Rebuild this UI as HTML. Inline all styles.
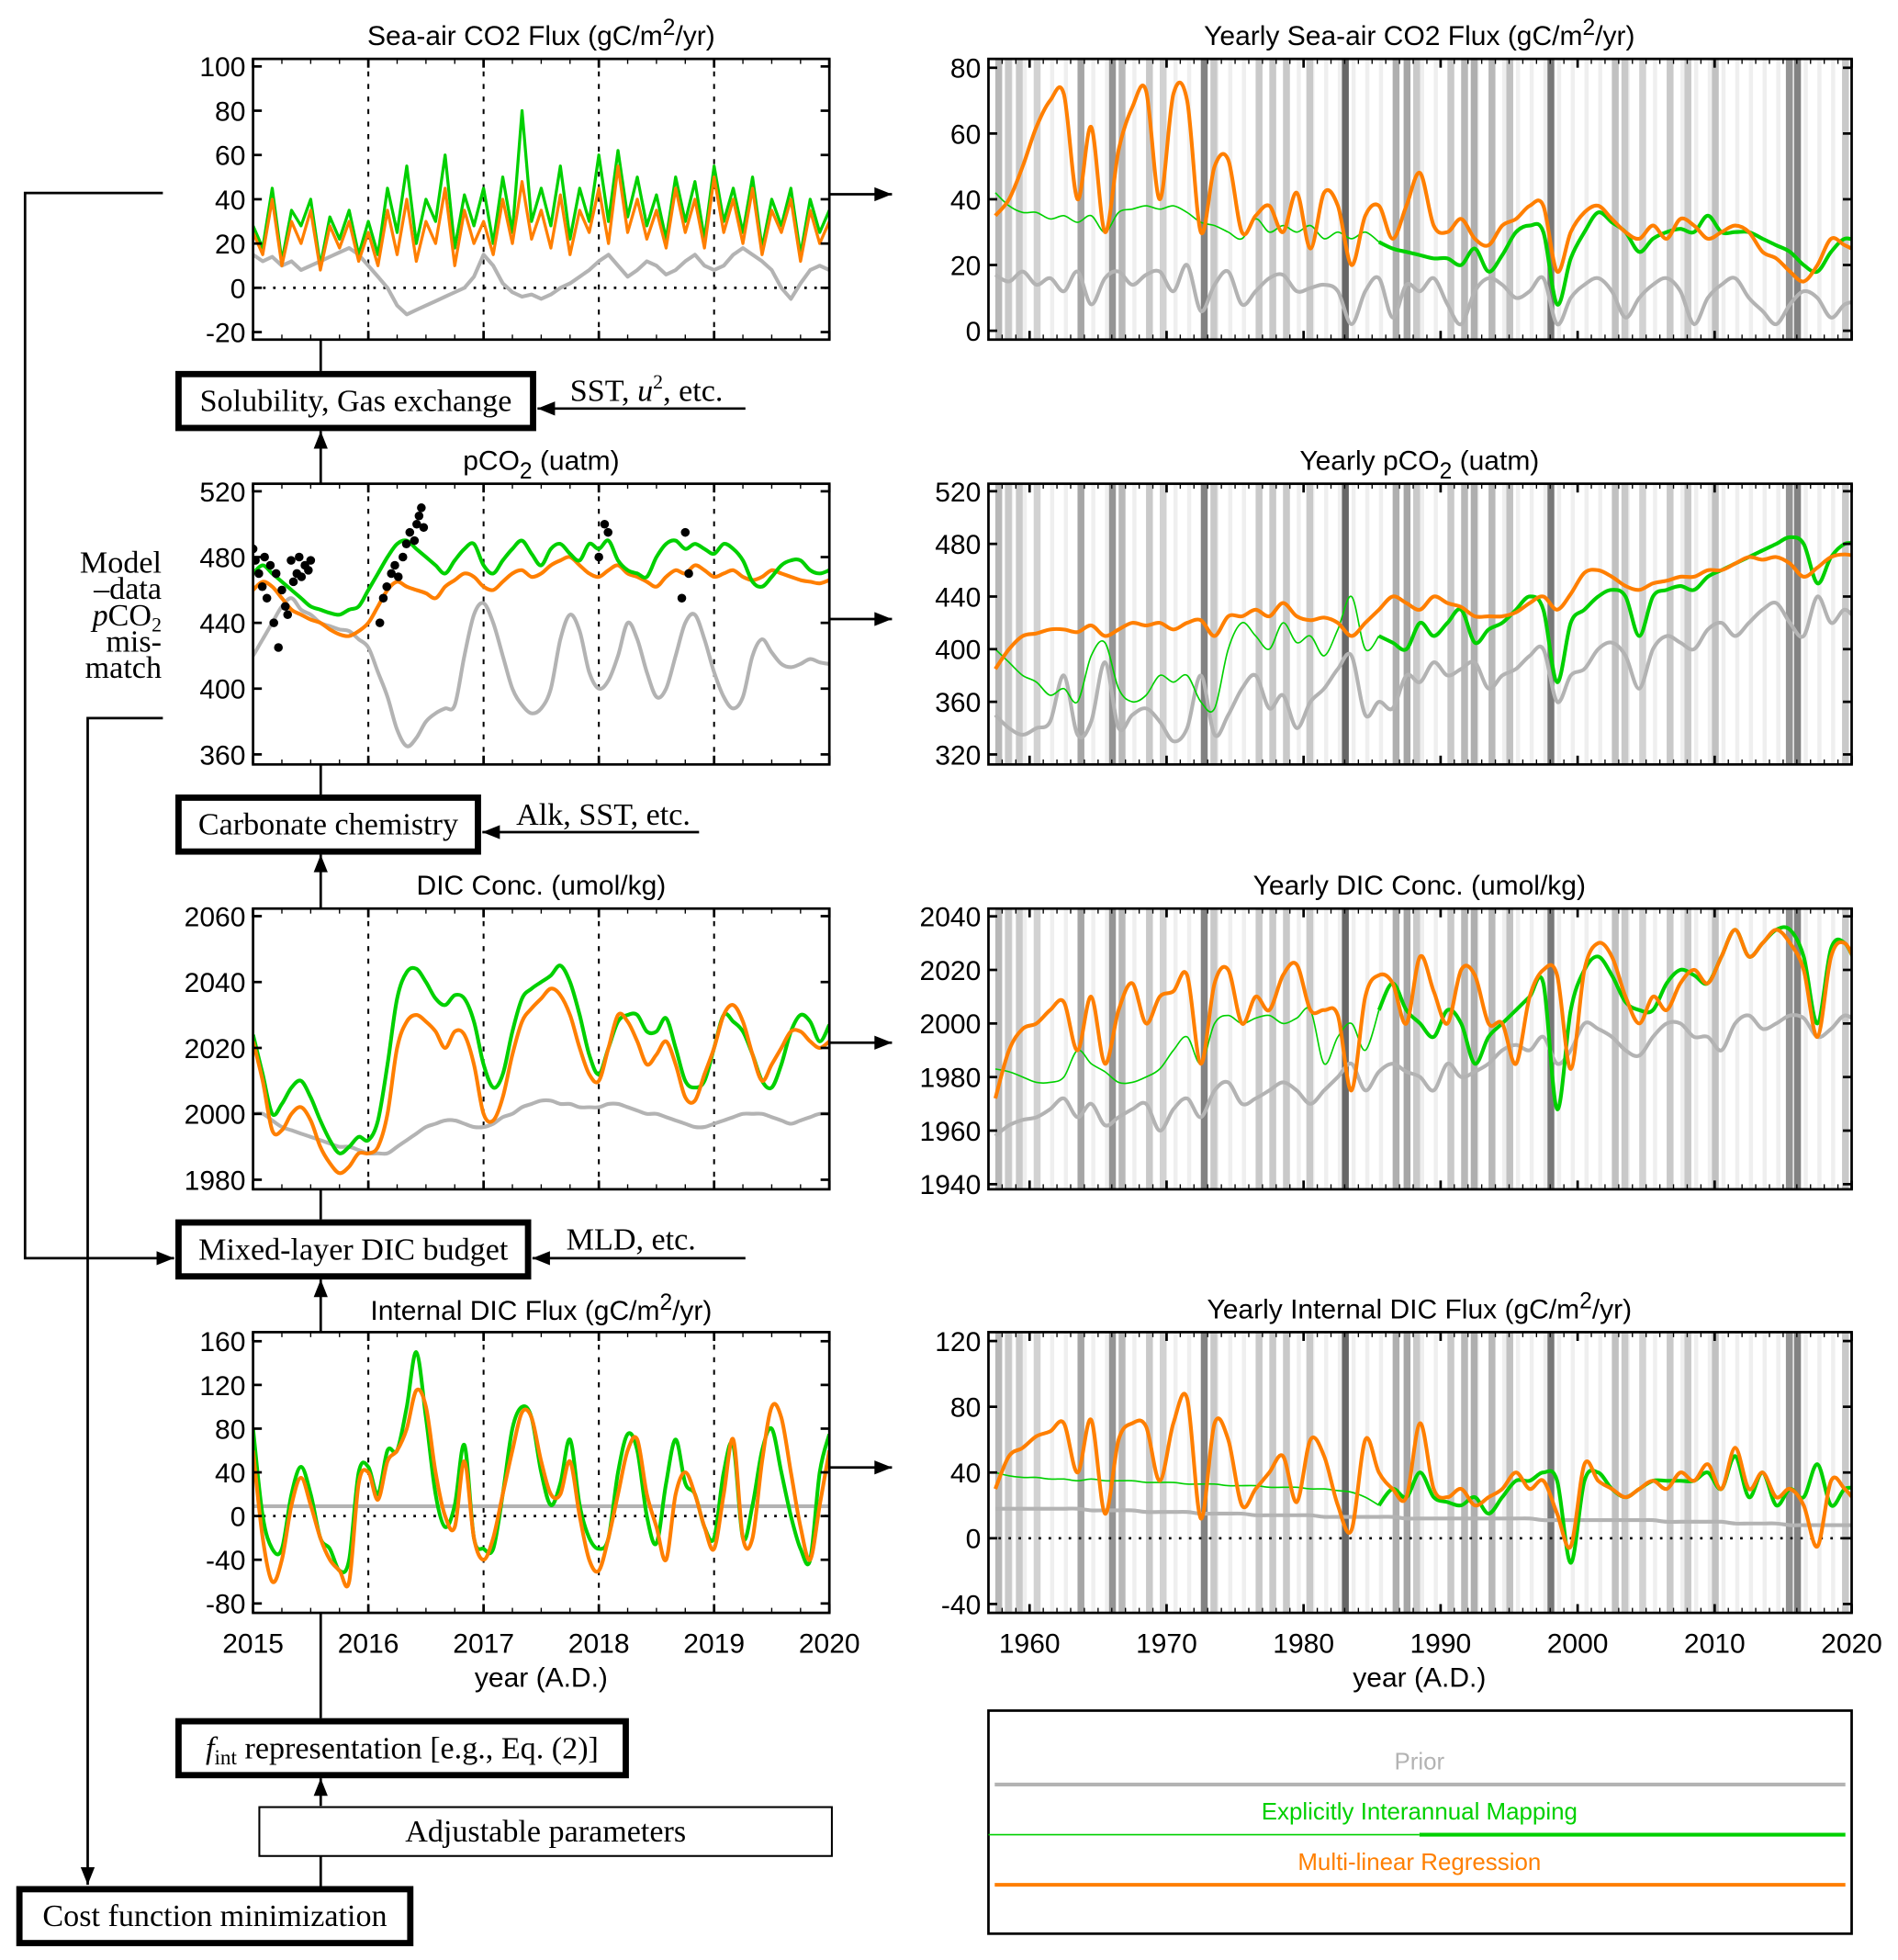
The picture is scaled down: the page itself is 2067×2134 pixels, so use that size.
<!DOCTYPE html>
<html><head><meta charset="utf-8">
<style>
html,body{margin:0;padding:0;background:#fff;}
svg{display:block;}
.t{font-family:"Liberation Sans",sans-serif;font-size:22px;fill:#000;}
.s{font-family:"Liberation Serif",serif;font-size:25px;fill:#000;}
</style></head>
<body>
<svg id="fig" xmlns="http://www.w3.org/2000/svg" width="2067" height="2134" viewBox="0 0 1515 1564" preserveAspectRatio="none"></svg>
<script>
// ---------- left panel data (monthly 2015.0 - 2020.0) ----------
const leftYears = [2015,2016,2017,2018,2019,2020];
const fluxOrange = [25,15,40,10,30,20,35,8,28,18,30,12,25,10,35,15,40,12,30,20,45,10,35,20,30,15,40,20,48,22,35,18,42,15,35,25,45,20,55,25,40,22,35,18,45,25,40,18,50,25,40,20,45,15,35,25,40,12,35,20,30];
const fluxGreen = [28,18,45,12,35,28,40,10,32,22,35,15,30,15,45,25,55,20,40,30,60,18,42,28,45,20,50,25,80,30,45,28,55,22,45,30,60,30,62,32,50,28,42,22,50,30,48,22,55,30,45,25,50,18,40,28,45,15,40,25,35];
const fluxGray = [15,12,14,10,12,8,10,12,14,16,18,15,10,5,0,-8,-12,-10,-8,-6,-4,-2,0,5,15,10,2,-2,-4,-3,-5,-3,0,2,5,8,12,15,10,5,8,12,10,6,8,12,15,10,8,10,15,18,15,12,8,0,-5,2,8,10,8];
const pco2Green = [470,475,470,465,460,455,450,448,446,445,448,450,460,470,480,488,490,485,480,475,470,478,485,488,475,470,478,485,490,482,475,485,488,482,478,488,485,490,478,472,470,468,480,488,490,485,488,485,482,488,485,478,465,462,468,475,478,478,472,470,472];
const pco2Orange = [460,465,462,455,448,445,442,440,436,433,432,435,440,450,460,465,462,460,458,455,462,466,470,468,462,460,465,470,472,468,470,475,478,480,475,470,468,472,475,470,468,465,462,468,472,470,475,472,468,470,472,468,466,468,472,470,468,466,465,464,466];
const pco2Gray = [420,430,440,450,455,448,445,440,438,436,435,430,425,410,395,375,365,370,380,385,388,390,420,445,452,440,420,400,390,385,388,400,430,445,435,410,400,405,420,440,430,410,395,400,420,440,445,430,410,395,388,395,420,430,422,415,413,415,418,416,415];
const obsTimes = [2015.0,2015.02,2015.05,2015.08,2015.1,2015.12,2015.15,2015.18,2015.2,2015.22,2015.25,2015.28,2015.3,2015.33,2015.35,2015.38,2015.4,2015.42,2015.45,2015.48,2015.5,2016.1,2016.13,2016.16,2016.2,2016.23,2016.26,2016.3,2016.33,2016.36,2016.4,2016.42,2016.44,2016.46,2016.48,2018.0,2018.05,2018.08,2018.75,2018.78,2018.72];
const obsValues = [485,478,470,462,480,455,475,440,470,425,460,450,445,478,465,470,480,468,475,472,478,440,455,462,470,475,468,480,488,495,490,500,505,510,498,480,500,495,495,470,455];
const dicGreen = [2024,2012,2000,2003,2008,2010,2005,1998,1992,1988,1990,1993,1992,1998,2015,2035,2043,2044,2040,2035,2033,2036,2035,2028,2015,2008,2012,2025,2035,2038,2040,2042,2045,2040,2030,2018,2012,2020,2028,2030,2030,2025,2025,2029,2020,2010,2008,2010,2020,2030,2028,2025,2018,2010,2008,2015,2025,2030,2028,2022,2027];
const dicOrange = [2022,2010,1995,1995,2000,2002,1998,1990,1985,1982,1984,1988,1988,1990,2000,2020,2028,2030,2028,2025,2020,2025,2024,2015,2000,1998,2005,2018,2028,2032,2035,2038,2036,2030,2020,2012,2010,2020,2030,2028,2022,2015,2018,2022,2015,2005,2004,2012,2020,2030,2033,2028,2018,2010,2015,2020,2025,2025,2022,2020,2022];
const dicGray = [2000,2000,1998,1996,1995,1994,1993,1992,1991,1990,1990,1989,1988,1988,1988,1990,1992,1994,1996,1997,1998,1998,1997,1996,1996,1997,1999,2000,2002,2003,2004,2004,2003,2003,2002,2002,2002,2003,2003,2002,2001,2000,2000,1999,1998,1997,1996,1996,1997,1998,1999,2000,2000,2000,1999,1998,1997,1998,1999,2000,2000];
const intGreen = [80,0,-30,-30,20,45,20,-20,-30,-50,-40,40,45,20,60,60,100,150,90,20,-10,10,65,-20,-30,-30,20,80,100,90,40,10,30,70,10,-20,-30,-20,40,75,60,0,-25,30,70,30,20,-10,-20,40,65,-20,10,60,80,40,0,-30,-40,40,75];
const intOrange = [60,-20,-60,-40,10,35,10,-20,-40,-50,-60,30,40,15,50,60,80,115,100,40,0,-10,50,-20,-40,-20,20,60,95,90,50,20,20,50,0,-40,-50,-20,20,60,70,20,-10,-40,20,40,20,-10,-30,20,70,-20,-20,50,100,90,40,-10,-40,10,60];
const intGray = [9,9,9,9,9,9,9,9,9,9,9,9,9,9,9,9,9,9,9,9,9,9,9,9,9,9,9,9,9,9,9,9,9,9,9,9,9,9,9,9,9,9,9,9,9,9,9,9,9,9,9,9,9,9,9,9,9,9,9,9,9];
// ---------- right panel data (yearly 1957 - 2020) ----------
const rightYears = [1960,1970,1980,1990,2000,2010,2020];
const yFluxOrange = [35,40,50,62,70,72,40,62,30,55,68,73,40,72,70,30,50,52,30,35,38,30,42,25,42,38,20,35,38,28,38,48,32,30,34,28,26,32,34,38,38,18,30,36,38,34,30,28,32,28,34,32,28,30,32,30,24,22,18,15,20,28,26,24];
const yFluxGreen = [42,38,36,36,34,35,33,35,30,36,37,38,37,38,36,33,32,30,28,34,30,32,30,32,28,30,28,30,27,25,24,23,22,22,20,25,18,23,30,32,30,8,22,30,36,33,30,24,28,30,31,30,35,30,30,30,28,26,24,20,18,24,28,27];
const yFluxGray = [17,15,18,14,16,12,18,8,16,18,14,17,18,12,20,6,14,18,8,12,16,17,12,13,14,12,2,12,16,4,14,12,16,8,2,12,16,14,10,12,16,2,10,14,16,12,4,10,14,16,12,2,10,14,16,10,6,2,8,12,10,4,8,9];
const yPco2Orange = [385,400,410,412,415,415,413,418,410,415,420,418,420,415,420,422,410,425,425,430,425,435,425,422,424,420,410,420,430,440,435,430,440,435,432,425,425,425,428,435,440,430,442,458,460,455,448,445,450,452,455,455,460,460,465,470,468,470,465,455,462,470,472,470];
const yPco2Green = [400,390,380,375,365,370,360,395,405,370,360,365,380,375,380,360,355,400,420,410,400,420,405,410,395,415,440,400,410,405,400,420,410,420,430,405,415,420,430,440,430,375,420,430,440,445,440,410,440,445,448,445,455,460,465,470,475,480,485,480,450,470,480,480];
const yPco2Gray = [350,340,335,340,345,380,335,345,390,340,350,355,345,330,340,380,335,350,370,380,355,365,340,360,370,385,395,350,360,355,380,375,390,380,385,390,370,380,385,395,400,360,380,385,400,405,395,370,400,410,405,400,415,420,410,420,430,435,420,410,440,420,430,420];
const yDicOrange = [1972,1990,1998,2000,2005,2008,1990,2010,1985,2005,2015,2000,2010,2012,2018,1985,2015,2020,2000,2010,2005,2018,2022,2005,2005,2003,1975,2010,2018,2015,2000,2025,2012,2000,2020,2018,2000,2000,1985,2010,2020,2018,1983,2020,2030,2025,2010,2000,2010,2005,2015,2020,2015,2025,2035,2025,2030,2035,2030,2020,1995,2025,2030,2020];
const yDicGreen = [1983,1982,1980,1978,1978,1980,1990,1985,1982,1978,1978,1980,1983,1990,1995,1985,2000,2003,2000,2002,2003,2000,2002,2005,1985,1995,2000,1990,2005,2015,2005,2000,1995,2005,2000,1985,1995,2000,2005,2010,2015,1968,2005,2020,2025,2018,2008,2005,2005,2015,2020,2018,2015,2025,2035,2025,2030,2035,2035,2025,2000,2028,2030,2020];
const yDicGray = [1958,1962,1964,1965,1968,1972,1965,1970,1962,1965,1968,1970,1960,1968,1972,1965,1975,1978,1970,1972,1975,1978,1975,1970,1975,1980,1985,1975,1982,1985,1982,1980,1975,1985,1980,1982,1985,1990,1992,1990,1995,1985,1990,2000,1998,1995,1990,1988,1995,2000,2000,1995,1995,1990,2000,2003,1998,2000,2003,2002,1995,1998,2003,2000];
const yIntOrange = [30,50,55,62,65,70,40,72,15,60,70,68,35,70,85,12,70,60,20,30,40,50,22,60,50,20,5,60,40,30,25,70,30,25,30,20,25,30,40,30,35,15,-5,45,35,30,25,30,35,30,40,35,45,30,55,30,40,25,30,20,-5,35,30,20];
const yIntGreen = [40,38,37,37,36,36,35,36,35,35,35,34,34,34,33,33,33,32,32,32,31,31,31,30,30,29,28,25,20,30,25,40,25,22,20,25,15,25,35,35,40,35,-15,35,40,30,25,30,35,35,35,35,40,30,50,25,40,20,30,25,45,20,30,30];
const yIntGray = [18,18,18,18,18,18,18,17,17,17,17,16,16,16,16,15,15,15,15,14,14,14,14,14,13,13,13,13,13,13,12,12,12,12,12,12,12,12,12,12,11,11,11,11,11,11,11,11,11,10,10,10,10,10,9,9,9,9,8,8,8,8,8,8];
const bandYears = [1957.5,1958.2,1959,1960.3,1963.5,1965.8,1966.5,1968.5,1969.5,1972.5,1973.2,1976.5,1977.5,1978.5,1980.2,1982.8,1986.5,1987.3,1988,1990.5,1991.5,1992.2,1993.5,1994.8,1997.8,2002.5,2003.2,2004.5,2006.5,2007.8,2009.8,2015.2,2015.8,2019.3];
const bandDark = [0.4,0.3,0.3,0.25,0.5,0.6,0.4,0.3,0.25,0.7,0.3,0.3,0.3,0.3,0.3,0.85,0.45,0.5,0.3,0.3,0.4,0.45,0.4,0.35,0.75,0.35,0.3,0.25,0.3,0.3,0.35,0.6,0.7,0.3];

const NS = "http://www.w3.org/2000/svg";
const svg = document.getElementById('fig');
function mk(tag, attrs, parent){const e=document.createElementNS(NS,tag);for(const k in attrs)e.setAttribute(k,attrs[k]);(parent||svg).appendChild(e);return e;}
function txt(x,y,s,cls,anchor,parent){const e=mk('text',{x:x,y:y,class:cls,'text-anchor':anchor||'middle'},parent);e.textContent=s;return e;}
const GREEN='#00d000', ORANGE='#ff7f00', GRAY='#b3b3b3';

function smoothPath(pts){
  let d='M'+pts[0][0].toFixed(1)+','+pts[0][1].toFixed(1);
  for(let i=0;i<pts.length-1;i++){
    const p0=pts[Math.max(0,i-1)],p1=pts[i],p2=pts[i+1],p3=pts[Math.min(pts.length-1,i+2)];
    const c1=[p1[0]+(p2[0]-p0[0])/6,p1[1]+(p2[1]-p0[1])/6];
    const c2=[p2[0]-(p3[0]-p1[0])/6,p2[1]-(p3[1]-p1[1])/6];
    d+='C'+c1[0].toFixed(1)+','+c1[1].toFixed(1)+' '+c2[0].toFixed(1)+','+c2[1].toFixed(1)+' '+p2[0].toFixed(1)+','+p2[1].toFixed(1);
  }
  return d;
}
function linePath(pts){return 'M'+pts.map(p=>p[0].toFixed(1)+','+p[1].toFixed(1)).join('L');}

function panel(cfg){
  const g=mk('g',{});
  
  
  const sx=v=>cfg.x0+(v-cfg.xmin)/(cfg.xmax-cfg.xmin)*(cfg.x1-cfg.x0);
  const sy=v=>cfg.y1-(v-cfg.ymin)/(cfg.ymax-cfg.ymin)*(cfg.y1-cfg.y0);
  const clipId='c'+cfg.name;
  const cp=mk('clipPath',{id:clipId},g);mk('rect',{x:cfg.x0,y:cfg.y0,width:cfg.x1-cfg.x0,height:cfg.y1-cfg.y0},cp);
  const inner=mk('g',{'clip-path':'url(#'+clipId+')'},g);
  return {g,inner,sx,sy,cfg};
}
function frame(P,yticks,xticks,xminor,showXLabels){
  const c=P.cfg,g=P.g;
  const fr=mk('rect',{x:c.x0,y:c.y0,width:c.x1-c.x0,height:c.y1-c.y0,fill:'none',stroke:'#000','stroke-width':2},g);
  
  
  yticks.forEach(v=>{
    const y=P.sy(v);
    mk('line',{x1:c.x0,x2:c.x0+7,y1:y,y2:y,stroke:'#000','stroke-width':2},g);
    mk('line',{x1:c.x1,x2:c.x1-7,y1:y,y2:y,stroke:'#000','stroke-width':2},g);
    const t=txt(c.x0-6,y+8,String(v),'t','end',g);
    
    
  });
  (xminor||[]).forEach(v=>{
    const x=P.sx(v);
    mk('line',{x1:x,x2:x,y1:c.y1,y2:c.y1-4,stroke:'#000','stroke-width':1},g);
    mk('line',{x1:x,x2:x,y1:c.y0,y2:c.y0+4,stroke:'#000','stroke-width':1},g);
  });
  xticks.forEach(v=>{
    const x=P.sx(v);
    mk('line',{x1:x,x2:x,y1:c.y1,y2:c.y1-7,stroke:'#000','stroke-width':2},g);
    mk('line',{x1:x,x2:x,y1:c.y0,y2:c.y0+7,stroke:'#000','stroke-width':2},g);
    if(showXLabels){const t=txt(x,c.y1+32,String(v),'t','middle',g);
      
      }
  });
}
function series(P,vals,t0,dt,color,w,name,smooth,parent){
  const pts=vals.map((v,i)=>[P.sx(t0+i*dt),P.sy(v)]);
  const p=mk('path',{d:smooth?smoothPath(pts):linePath(pts),fill:'none',stroke:color,'stroke-width':w,'stroke-linejoin':'round'},parent||P.inner);
  
  
  return p;
}
function vdots(P,years){years.forEach(v=>{if(v>P.cfg.xmin&&v<P.cfg.xmax){const x=P.sx(v);
  const l=mk('line',{x1:x,x2:x,y1:P.cfg.y0,y2:P.cfg.y1,stroke:'#000','stroke-width':1.5,'stroke-dasharray':'4,6'},P.inner);
  
  }});}
function hzero(P){const y=P.sy(0);
  const l=mk('line',{x1:P.cfg.x0,x2:P.cfg.x1,y1:y,y2:y,stroke:'#000','stroke-width':2,'stroke-dasharray':'2,6'},P.inner);
  
  }
function bands(P){
  for(let y=1957;y<2020;y++){
    const r=mk('rect',{x:P.sx(y+0.5),y:P.cfg.y0,width:P.sx(y+0.8)-P.sx(y+0.5),height:P.cfg.y1-P.cfg.y0,fill:'#efefef'},P.inner);
    
    
  }
  bandYears.forEach((y,i)=>{
    const g=Math.round(255*(1-0.7*bandDark[i]));
    const r=mk('rect',{x:P.sx(y),y:P.cfg.y0,width:P.sx(y+0.5)-P.sx(y),height:P.cfg.y1-P.cfg.y0,fill:'rgb('+g+','+g+','+g+')'},P.inner);
    
    
  });
}
function title(x,y,parts,name){
  const t=mk('text',{x:x,y:y,class:'t','text-anchor':'middle'});
  
  
  parts.forEach(p=>{const s=mk('tspan',p[1]==='sup'?{dy:-8,'font-size':18}:p[1]==='sub'?{dy:7,'font-size':18}:p[1]==='back'?{dy:p[2]}:{},t);s.textContent=p[0];});
  return t;
}
const L={x0:202,x1:662,xmin:2015,xmax:2020};
const R={x0:789,x1:1478,xmin:1957,xmax:2020};
const leftMinor=[];for(let i=0;i<=60;i+=3)leftMinor.push(2015+i/12);
const rightMinor=[];for(let y=1957;y<=2020;y++)rightMinor.push(y);
const dt=1/12;

// Panel 1
let P=panel(Object.assign({name:'sea-air-flux-panel',y0:47,y1:271,ymin:-23.4,ymax:103.4},L));
vdots(P,leftYears);hzero(P);
series(P,fluxGray,2015,dt,GRAY,3,'prior-line',false);
series(P,fluxGreen,2015,dt,GREEN,2.4,'explicit-mapping-line',false);
series(P,fluxOrange,2015,dt,ORANGE,2.4,'regression-line',false);
frame(P,[100,80,60,40,20,0,-20],leftYears,leftMinor,false);
title(432,36,[['Sea-air CO2 Flux (gC/m'],['2','sup'],['/yr)','back',8]],'panel-title');
// Panel 2
P=panel(Object.assign({name:'pco2-panel',y0:386,y1:610,ymin:353.9,ymax:524.6},L));
vdots(P,leftYears);
series(P,pco2Gray,2015,dt,GRAY,3,'prior-line',true);
series(P,pco2Orange,2015,dt,ORANGE,3,'regression-line',true);
series(P,pco2Green,2015,dt,GREEN,3,'explicit-mapping-line',true);
obsTimes.forEach((t,i)=>{const c=mk('circle',{cx:P.sx(t),cy:P.sy(obsValues[i]),r:3.5,fill:'#000'},P.inner);
  
  });
frame(P,[520,480,440,400,360],leftYears,leftMinor,false);
title(432,375,[['pCO'],['2','sub'],[' (uatm)','back',-7]],'panel-title');
// Panel 3
P=panel(Object.assign({name:'dic-panel',y0:725,y1:949,ymin:1977.1,ymax:2062.3},L));
vdots(P,leftYears);
series(P,dicGray,2015,dt,GRAY,3,'prior-line',true);
series(P,dicGreen,2015,dt,GREEN,3,'explicit-mapping-line',true);
series(P,dicOrange,2015,dt,ORANGE,3,'regression-line',true);
frame(P,[2060,2040,2020,2000,1980],leftYears,leftMinor,false);
title(432,714,[['DIC Conc. (umol/kg)']],'panel-title');
// Panel 4
P=panel(Object.assign({name:'internal-flux-panel',y0:1063,y1:1287,ymin:-88.6,ymax:168.3},L));
vdots(P,leftYears);hzero(P);
series(P,intGray,2015,dt,GRAY,3,'prior-line',true);
series(P,intGreen,2015,dt,GREEN,3,'explicit-mapping-line',true);
series(P,intOrange,2015,dt,ORANGE,3,'regression-line',true);
frame(P,[160,120,80,40,0,-40,-80],leftYears,leftMinor,true);
title(432,1053,[['Internal DIC Flux (gC/m'],['2','sup'],['/yr)','back',8]],'panel-title');
let xt=txt(432,1346,'year (A.D.)','t');

// Right panels
function rightPanel(name,y0,ymin,ymax,o,g,gr,ticks,titleParts,zero,xlab){
  const P=panel(Object.assign({name:name,y0:y0,y1:y0+224,ymin:ymin,ymax:ymax},R));
  bands(P);
  if(zero)hzero(P);
  series(P,gr,1957.5,1,GRAY,3,'prior-line',true);
  const split=28;
  series(P,g.slice(0,split+1),1957.5,1,GREEN,1.2,'explicit-mapping-line-early',true);
  series(P,g.slice(split),1957.5+split,1,GREEN,3,'explicit-mapping-line',true);
  series(P,o,1957.5,1,ORANGE,3,'regression-line',true);
  frame(P,ticks,rightYears,rightMinor,xlab);
  title(1133,y0-11,titleParts,'panel-title');
}
rightPanel('yearly-flux-panel',47,-2.7,82.7,yFluxOrange,yFluxGreen,yFluxGray,[80,60,40,20,0],[['Yearly Sea-air CO2 Flux (gC/m'],['2','sup'],['/yr)','back',8]],false,false);
rightPanel('yearly-pco2-panel',386,312.4,525.7,yPco2Orange,yPco2Green,yPco2Gray,[520,480,440,400,360,320],[['Yearly pCO'],['2','sub'],[' (uatm)','back',-7]],false,false);
rightPanel('yearly-dic-panel',725,1938.1,2042.9,yDicOrange,yDicGreen,yDicGray,[2040,2020,2000,1980,1960,1940],[['Yearly DIC Conc. (umol/kg)']],false,false);
rightPanel('yearly-internal-flux-panel',1063,-45.4,125.4,yIntOrange,yIntGreen,yIntGray,[120,80,40,0,-40],[['Yearly Internal DIC Flux (gC/m'],['2','sup'],['/yr)','back',8]],true,true);
xt=txt(1133,1346,'year (A.D.)','t');

// Legend
const lg=mk('g',{});
mk('rect',{x:789,y:1365,width:689,height:178,fill:'none',stroke:'#000','stroke-width':2},lg);
let le=txt(1133,1412,'Prior','t','middle',lg);le.style.fill=GRAY;le.style.fontSize='19px';

mk('line',{x1:794,x2:1473,y1:1424,y2:1424,stroke:GRAY,'stroke-width':3},lg);
le=txt(1133,1452,'Explicitly Interannual Mapping','t','middle',lg);le.style.fill=GREEN;le.style.fontSize='19px';

mk('line',{x1:789,x2:1133,y1:1464,y2:1464,stroke:GREEN,'stroke-width':1.2},lg);
mk('line',{x1:1133,x2:1473,y1:1464,y2:1464,stroke:GREEN,'stroke-width':3},lg);
le=txt(1133,1492,'Multi-linear Regression','t','middle',lg);le.style.fill=ORANGE;le.style.fontSize='19px';

mk('line',{x1:794,x2:1473,y1:1504,y2:1504,stroke:ORANGE,'stroke-width':3},lg);

// Flow diagram
const defs=mk('defs',{});
const mkr=mk('marker',{id:'ah',viewBox:'0 0 10 10',refX:10,refY:5,markerWidth:16,markerHeight:14,orient:'auto',markerUnits:'userSpaceOnUse'},defs);
mk('path',{d:'M0,1L10,5L0,9Z',fill:'#000'},mkr);
function ln(pts,arrow,name){const p=mk('polyline',{points:pts.map(p=>p.join(',')).join(' '),fill:'none',stroke:'#000','stroke-width':2});
  if(arrow)p.setAttribute('marker-end','url(#ah)');
  
  }
function box(x,y,w,h,thick,label,name,italicF){
  const g=mk('g',{});
  mk('rect',{x:x+(thick?2.5:1),y:y+(thick?2.5:1),width:w-(thick?5:2),height:h-(thick?5:2),fill:'#fff',stroke:'#000','stroke-width':thick?5:1.5},g);
  const t=mk('text',{x:x+w/2,y:y+h/2+8,class:'s','text-anchor':'middle'},g);
  if(italicF){const a=mk('tspan',{'font-style':'italic'},t);a.textContent='f';const b=mk('tspan',{'font-size':17,dy:5},t);b.textContent='int';const c=mk('tspan',{dy:-5},t);c.textContent=' representation [e.g., Eq. (2)]';}
  else t.textContent=label;
}
ln([[256,271],[256,296]],false,'connector');
ln([[256,386],[256,344]],true,'arrow-up');
ln([[256,610],[256,634]],false,'connector');
ln([[256,725],[256,682]],true,'arrow-up');
ln([[256,949],[256,973]],false,'connector');
ln([[256,1063],[256,1021]],true,'arrow-up');
ln([[256,1287],[256,1371]],false,'connector');
ln([[256,1441],[256,1419]],true,'arrow-up');
ln([[256,1505],[256,1481]],false,'connector');
ln([[595,326],[429,326]],true,'input-arrow');
ln([[558,664],[385,664]],true,'input-arrow');
ln([[595,1004],[425,1004]],true,'input-arrow');
ln([[130,154],[20,154],[20,1004],[139,1004]],true,'feedback-arrow');
ln([[130,573],[70,573],[70,1504]],true,'mismatch-arrow');
[155,494,832,1171].forEach(y=>ln([[662,y],[712,y]],true,'output-arrow'));
box(140,296,288,48,true,'Solubility, Gas exchange','solubility-box');
box(140,634,244,48,true,'Carbonate chemistry','carbonate-box');
box(140,973,284,48,true,'Mixed-layer DIC budget','dic-budget-box');
box(140,1371,362,48,true,'','fint-box',true);
box(206,1441,459,41,false,'Adjustable parameters','adjustable-box');
box(13,1505,317,48,true,'Cost function minimization','cost-box');
const inp=mk('text',{x:455,y:320,class:'s'});
let a=mk('tspan',{},inp);a.textContent='SST, ';a=mk('tspan',{'font-style':'italic'},inp);a.textContent='u';a=mk('tspan',{dy:-10,'font-size':16},inp);a.textContent='2';a=mk('tspan',{dy:10},inp);a.textContent=', etc.';
let tt=txt(412,658,'Alk, SST, etc.','s','start');
tt=txt(452,997,'MLD, etc.','s','start');
const mm=mk('g',{});
txt(129,457,'Model','s','end',mm);txt(129,478,'–data','s','end',mm);
const pc=mk('text',{x:129,y:499,class:'s','text-anchor':'end'},mm);a=mk('tspan',{'font-style':'italic'},pc);a.textContent='p';a=mk('tspan',{},pc);a.textContent='CO';a=mk('tspan',{'font-size':16,dy:5},pc);a.textContent='2';
txt(129,520,'mis-','s','end',mm);txt(129,541,'match','s','end',mm);
</script>
</body></html>
